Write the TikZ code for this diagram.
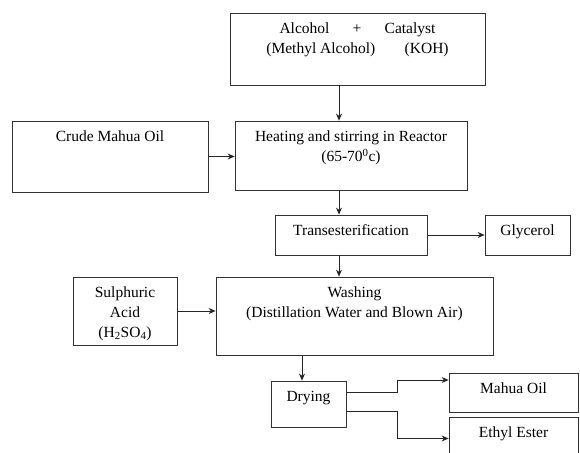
\documentclass[tikz,border=0pt]{standalone}
\usepackage{fontspec}
\setmainfont{Liberation Serif}
\usetikzlibrary{positioning,arrows.meta}

\begin{document}
\begin{tikzpicture}[>={Stealth[length=7pt,width=6pt]},x=1pt,y=-1pt,
  box/.style={draw=black!80,line width=0.8pt,rectangle,inner sep=0pt},
  txt/.style={anchor=north,align=center,inner sep=0pt,yshift=-10pt,
    font=\fontsize{15.5}{20}\selectfont},
  flow/.style={->,draw=black!85,line width=0.8pt}]
  \useasboundingbox (0,0) rectangle (580,452);

  % Blocchi
  \node[box,minimum width=255pt,minimum height=72pt,
    label={[txt]north:Alcohol\hspace{1.5em}+\hspace{1.5em}Catalyst\\(Methyl Alcohol)\hspace{1.9em}(KOH)}]
    (alc) at (357.5,49) {};
  \node[box,minimum width=232pt,minimum height=69pt,
    label={[txt]north:Heating and stirring in Reactor\\(65-70\textsuperscript{0}c)}]
    (heat) at (351,155.5) {};
  \node[box,minimum width=196pt,minimum height=71pt,
    label={[txt]north:Crude Mahua Oil}]
    (crude) at (110,156.5) {};
  \node[box,minimum width=152pt,minimum height=40pt,
    label={[txt]north:Transesterification}]
    (trans) at (351,235) {};
  \node[box,minimum width=85pt,minimum height=40pt,
    label={[txt]north:Glycerol}]
    (glyc) at (527.5,235) {};
  \node[box,minimum width=104pt,minimum height=68pt,
    label={[txt]north:Sulphuric\\Acid\\(H\textsubscript{2}SO\textsubscript{4})}]
    (acid) at (125,311) {};
  \node[box,minimum width=277pt,minimum height=78pt,
    label={[txt]north:Washing\\(Distillation Water and Blown Air)}]
    (wash) at (354.5,316) {};
  \node[box,minimum width=75pt,minimum height=46pt,
    label={[txt]north:Drying}]
    (dry) at (308.5,404) {};
  \node[box,minimum width=129pt,minimum height=39pt,
    label={[txt]north:Mahua Oil}]
    (oil) at (513.5,392.5) {};
  \node[box,minimum width=129pt,minimum height=43pt,
    label={[txt]north:Ethyl Ester}]
    (ester) at (513.5,438.5) {};

  \coordinate (mid) at (339,0);
  \coordinate (low) at (302,0);

  % Collegamenti
  \draw[flow] (alc.south -| mid) -- (heat.north -| mid);
  \draw[flow] (crude.east) -- (crude.east -| heat.west);
  \draw[flow] (heat.south -| mid) -- (trans.north -| mid);
  \draw[flow] (trans.east) -- (trans.east -| glyc.west);
  \draw[flow] (trans.south -| mid) -- (wash.north -| mid);
  \draw[flow] (acid.east) -- (acid.east -| wash.west);
  \draw[flow] (wash.south -| low) -- (dry.north -| low);
  % Uscite dell'essiccazione
  \draw[flow] ([yshift=12pt]dry.east) -- ++(51pt,0) |- ([yshift=12.5pt]oil.west);
  \draw[flow] ([yshift=-7pt]dry.east) -- ++(51pt,0) |- (ester.west);
\end{tikzpicture}
\end{document}
